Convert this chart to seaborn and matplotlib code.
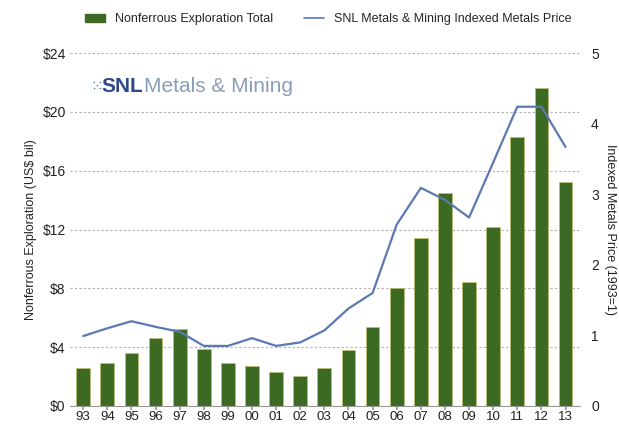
import numpy as np
import pandas as pd
import seaborn as sns
import matplotlib.pyplot as plt
from matplotlib.patches import Patch
from matplotlib.lines import Line2D

years = ["93", "94", "95", "96", "97", "98", "99", "00", "01", "02", "03",
         "04", "05", "06", "07", "08", "09", "10", "11", "12", "13"]
exploration = [2.6, 2.9, 3.6, 4.6, 5.2, 3.9, 2.9, 2.7, 2.3, 2.0, 2.6,
               3.8, 5.4, 8.0, 11.4, 14.5, 8.4, 12.2, 18.3, 21.6, 15.2]
metals_price = [0.99, 1.1, 1.2, 1.12, 1.05, 0.85, 0.85, 0.96, 0.85, 0.9, 1.07,
                1.38, 1.6, 2.57, 3.09, 2.92, 2.67, 3.45, 4.24, 4.24, 3.67]

left_ticks = [0, 4, 8, 12, 16, 20, 24]
left_labels = ["$0", "$4", "$8", "$12", "$16", "$20", "$24"]
right_ticks = [0, 1, 2, 3, 4, 5]

bar_color = "#3d6a22"
line_color = "#5b79b3"

sns.set_theme(style="white")
plt.rcParams['font.family'] = ['Liberation Sans', 'DejaVu Sans']

df = pd.DataFrame({"year": years, "exploration": exploration, "price": metals_price})
df["pos"] = np.arange(len(df))

fig = plt.figure(figsize=(6.19, 4.25), dpi=100)
ax = fig.add_axes([0.113, 0.045, 0.824, 0.830])

sns.barplot(data=df, x="year", y="exploration", color=bar_color, width=0.57,
            saturation=1, edgecolor="#c9c36a", linewidth=0.4, ax=ax, zorder=2)
ax.set_ylim(0, 24)
ax.set_xlim(-0.55, 20.6)
ax.set_yticks(left_ticks)
ax.set_yticklabels(left_labels)
ax.yaxis.grid(True, linestyle=(0, (2, 2)), color="#b0b0b0", linewidth=0.8, zorder=0)
ax.set_axisbelow(True)
ax.set_xlabel("")
ax.set_ylabel("Nonferrous Exploration (US$ bil)", fontsize=9, color="#222222")
ax.tick_params(axis="y", labelsize=10, colors="#222222", length=0, pad=3)
ax.tick_params(axis="x", labelsize=9.5, colors="#222222", length=3, color="#999999",
               direction="out", bottom=True, pad=1)
for s in ["top", "right", "left"]:
    ax.spines[s].set_visible(False)
ax.spines["bottom"].set_color("#999999")
ax.spines["bottom"].set_linewidth(0.8)

ax2 = ax.twinx()
sns.lineplot(data=df, x="pos", y="price", color=line_color, linewidth=1.6, ax=ax2)
ax2.set_ylim(0, 5)
ax2.set_yticks(right_ticks)
ax2.set_ylabel("Indexed Metals Price (1993=1)", fontsize=9, color="#222222",
               rotation=-90, labelpad=12)
ax2.tick_params(axis="y", labelsize=10, colors="#222222", length=0, pad=8)
for s in ["top", "right", "left", "bottom"]:
    ax2.spines[s].set_visible(False)
ax2.set_xlim(-0.55, 20.6)

# logo
ax.text(0.040, 0.905, "\u2059", transform=ax.transAxes, fontsize=11,
        color="#5c6fa8", va="center", ha="left", family=['DejaVu Sans'])
ax.text(0.062, 0.905, "SNL", transform=ax.transAxes, fontsize=15, fontweight="bold",
        color="#2e4a8a", va="center", ha="left")
ax.text(0.145, 0.905, "Metals & Mining", transform=ax.transAxes, fontsize=15,
        color="#8a9db8", va="center", ha="left")

handles = [Patch(facecolor=bar_color, edgecolor=bar_color),
           Line2D([0], [0], color=line_color, linewidth=1.2)]
fig.legend(handles, ["Nonferrous Exploration Total",
                     "SNL Metals & Mining Indexed Metals Price"],
           loc="upper center", bbox_to_anchor=(0.53, 0.995), ncol=2, frameon=False,
           fontsize=9, handlelength=1.6, handleheight=0.5, columnspacing=2.5)

fig.savefig("out.png", dpi=100)
